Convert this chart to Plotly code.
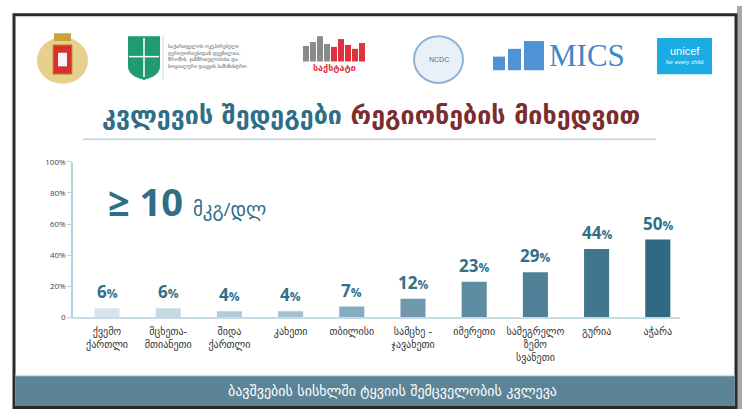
import plotly.graph_objects as go

# ---- data ----
regions = ["ქვემო<br>ქართლი", "მცხეთა-<br>მთიანეთი", "შიდა<br>ქართლი", "კახეთი", "თბილისი",
           "სამცხე -<br>ჯავახეთი", "იმერეთი", "სამეგრელო<br>ზემო<br>სვანეთი", "გურია", "აჭარა"]
values = [6, 6, 4, 4, 7, 12, 23, 29, 44, 50]
bar_colors = ["#d6e4ec", "#c6d9e3", "#b2cbd8", "#a2bfcf", "#87abbf",
              "#7199ae", "#5e8ca3", "#4f8098", "#41768e", "#2f6984"]
y_tickvals = [0, 20, 40, 60, 80, 100]
y_ticktext = ["0", "20%", "40%", "60%", "80%", "100%"]

title_part1 = "კვლევის შედეგები"
title_part2 = "რეგიონების მიხედვით"
threshold_text = "≥ 10"
unit_text = "მკგ/დლ"
banner_text = "ბავშვების სისხლში ტყვიის შემცველობის კვლევა"

W, H = 742, 414


def px(x):
    return x / W


def py(y):
    return 1 - y / H


GEO = "DejaVu Sans"
TEAL = "#2e6e87"

fig = go.Figure(go.Bar(x=regions, y=values, marker_color=bar_colors, width=0.41,
                       marker_line_width=0, hoverinfo="skip"))

annotations = []
for r, v in zip(regions, values):
    annotations.append(dict(x=r, y=v, xref="x", yref="y",
                            text=f"<b>{v}<span style='font-size:12px'>%</span></b>",
                            showarrow=False, xanchor="center", yanchor="bottom", yshift=3,
                            font=dict(family="Open Sans", size=17, color="#336f8a")))


def note(x, y, text, font, xanchor="center", yanchor="middle", align="center"):
    annotations.append(dict(x=px(x), y=py(y), xref="paper", yref="paper", showarrow=False,
                            text=text, font=font, xanchor=xanchor, yanchor=yanchor, align=align))


# title
note(371, 113, f"<b><span style='color:{TEAL}'>{title_part1}</span> "
               f"<span style='color:#7b2d2d'>{title_part2}</span></b>", dict(family=GEO, size=25))
# threshold
note(106, 200, f"<b>{threshold_text}</b> <span style='font-size:19px'>{unit_text}</span>",
     dict(family="Open Sans, DejaVu Sans", size=38, color=TEAL), xanchor="left")
# banner text
note(392, 396, banner_text, dict(family=GEO, size=14, color="white"))

shapes = []


def rect(x0, y0, x1, y1, **kw):
    d = dict(type="rect", xref="paper", yref="paper", x0=px(x0), x1=px(x1), y0=py(y1), y1=py(y0))
    d.update(kw)
    shapes.append(d)


def hline(x0, x1, y, color, width):
    shapes.append(dict(type="line", xref="paper", yref="paper", x0=px(x0), x1=px(x1), y0=py(y), y1=py(y),
                       line=dict(color=color, width=width)))


# frame
rect(737, 0, 742, 414, fillcolor="#a8a8a8", line_width=0, layer="below")
rect(14, 9, 736, 412.5, line=dict(color="#2b2b2b", width=3), fillcolor="rgba(0,0,0,0)")
# title underline
hline(83, 656, 137, "#b9d2de", 1.5)
# banner
rect(15.5, 380, 734.5, 411, fillcolor="#5b8497", line_width=0)
hline(15.5, 734.5, 379.5, "#cfe0e8", 1.5)

# ---- logo approximations (decorative) ----
# coat of arms
shapes.append(dict(type="circle", xref="paper", yref="paper", x0=px(37), x1=px(88), y0=py(80), y1=py(32),
                   fillcolor="#e3c779", line_width=0, opacity=0.85))
rect(53, 40, 72, 70, fillcolor="#d8302f", line=dict(color="#b8952f", width=1))
rect(58, 48, 67, 62, fillcolor="#f4f4f4", line_width=0)
rect(54, 28, 71, 36, fillcolor="#c9a23b", line_width=0)
# ministry shield
shapes.append(dict(type="path", xref="paper", yref="paper",
                   path=f"M {px(128)},{py(31)} L {px(160)},{py(31)} L {px(160)},{py(62)} "
                        f"Q {px(160)},{py(72)} {px(144)},{py(76)} Q {px(128)},{py(72)} {px(128)},{py(62)} Z",
                   fillcolor="#1f9b6f", line_width=0))
shapes.append(dict(type="line", xref="paper", yref="paper", x0=px(144), x1=px(144), y0=py(33), y1=py(73),
                   line=dict(color="white", width=1.5)))
hline(129, 159, 52, "white", 1.5)
shapes.append(dict(type="line", xref="paper", yref="paper", x0=px(163), x1=px(163), y0=py(30), y1=py(76),
                   line=dict(color="#bfe0d4", width=1)))
note(166, 52, "საქართველოს ოკუპირებული<br>ტერიტორიებიდან დევნილთა,<br>შრომის, ჯანმრთელობისა და<br>სოციალური დაცვის სამინისტრო",
     dict(family=GEO, size=5, color="#555"), xanchor="left", align="left")
# geostat bars
geo_h = [16, 20, 26, 18, 15, 23, 17, 13, 19]
geo_c = ["#8a8a8a"] * 4 + ["#e0323c"] * 5
for i, (hh, cc) in enumerate(zip(geo_h, geo_c)):
    x0 = 303 + i * 7
    rect(x0, 57 - hh, x0 + 6, 57, fillcolor=cc, line_width=0)
note(334, 64, "<b>საქსტატი</b>", dict(family=GEO, size=9, color="#e0323c"))
# NCDC
shapes.append(dict(type="circle", xref="paper", yref="paper", x0=px(414), x1=px(463), y0=py(79), y1=py(31),
                   fillcolor="#e8f1f8", line=dict(color="#8fb3d4", width=2)))
note(438.5, 55, "NCDC", dict(family="Liberation Sans", size=7, color="#3b6fa8"))
# MICS
for x0, x1, hh in [(493, 505, 14), (508, 521, 22), (524, 544, 30)]:
    rect(x0, 66 - hh, x1, 66, fillcolor="#4e93d4", line_width=0)
note(547, 51, "MICS", dict(family="Liberation Serif", size=31, color="#3f86cc"), xanchor="left")
# unicef
rect(657, 33, 712, 70, fillcolor="#1cabe2", line_width=0)
note(684.5, 46, "unicef", dict(family="Liberation Sans", size=11, color="white"))
note(684.5, 58, "for every child", dict(family="Liberation Sans", size=6, color="white"))

fig.update_layout(
    width=W, height=H,
    margin=dict(l=0, r=0, t=0, b=0),
    paper_bgcolor="white", plot_bgcolor="white",
    showlegend=False,
    annotations=annotations,
    shapes=shapes,
    xaxis=dict(domain=[px(73), px(680)], range=[-0.556, 9.363], showline=True,
               linecolor="#c5dbe5", linewidth=1.5, showgrid=False, ticks="",
               ticklabelstandoff=4,
               tickfont=dict(family=GEO, size=10, color="#333"), fixedrange=True),
    yaxis=dict(domain=[py(320), py(160)], range=[0, 100], tickvals=y_tickvals, ticktext=y_ticktext,
               showline=True, linecolor="#b7d1dd", linewidth=1.5, ticks="outside", ticklen=4,
               tickcolor="#b7d1dd", showgrid=False, zeroline=False,
               tickfont=dict(family="Open Sans", size=8, color="#444"), fixedrange=True),
)

fig.write_html("out.html", config={"displayModeBar": False},
               post_script="document.body.style.margin='0';document.body.style.overflow='hidden';")
